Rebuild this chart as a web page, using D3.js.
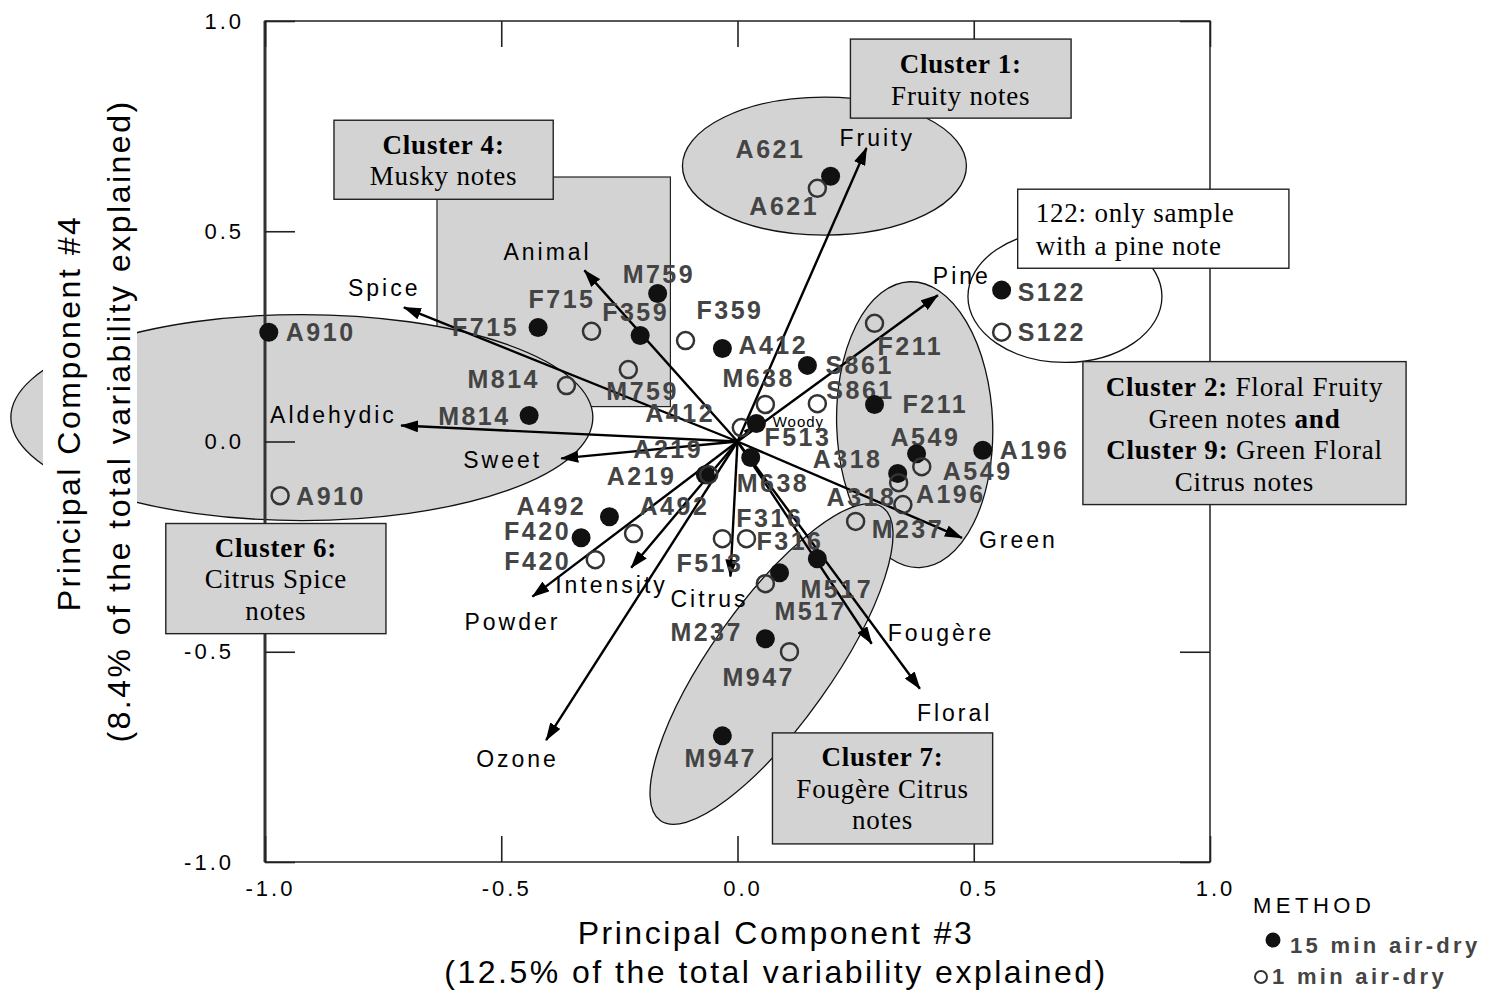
<!DOCTYPE html>
<html><head><meta charset="utf-8">
<script src="https://cdn.jsdelivr.net/npm/d3@7"></script>
<style>body{margin:0;background:#fff}</style>
</head><body><svg id="c" width="1490" height="994"></svg>
<script>
// ---------------- DATA ----------------
const xTicks = [-1, -0.5, 0, 0.5, 1];
const yTicks = [-1, -0.5, 0, 0.5, 1];
const tickLabels = ["-1.0", "-0.5", "0.0", "0.5", "1.0"];
const methods = ["15 min air-dry", "1 min air-dry"];

const sampleIds = ["A621","A621","M759","M759","F715","F715","F359","F359","A412","A412",
  "S861","S861","M638","M638","M814","M814","A910","A910","F513","F513",
  "A219","A219","A492","A492","F420","F420","F316","F316","M517","M517",
  "M237","M237","M947","M947","A318","A318","A549","A549","A196","A196",
  "F211","F211","S122","S122"];
const sampleMethod = sampleIds.map((d, i) => i % 2 === 0 ? 0 : 1); // 0 = 15 min, 1 = 1 min
const samplePC3 = [0.197,0.169,-0.169,-0.231,-0.422,-0.309,-0.206,-0.110,-0.032,0.008,
  0.148,0.169,0.028,0.059,-0.441,-0.362,-0.992,-0.968,0.040,-0.032,
  -0.068,-0.061,-0.271,-0.220,-0.331,-0.301,0.169,0.019,0.089,0.059,
  0.059,0.250,-0.032,0.110,0.339,0.341,0.379,0.390,0.519,0.350,
  0.290,0.290,0.559,0.559];
const samplePC4 = [0.631,0.602,0.352,0.171,0.271,0.262,0.252,0.240,0.221,0.033,
  0.181,0.090,-0.038,0.088,0.062,0.133,0.260,-0.129,0.043,-0.231,
  -0.079,-0.079,-0.179,-0.219,-0.229,-0.281,-0.279,-0.231,-0.312,-0.338,
  -0.469,-0.190,-0.700,-0.500,-0.076,-0.098,-0.029,-0.060,-0.021,-0.150,
  0.088,0.281,0.360,0.260];

const attrNames = ["Fruity","Animal","Spice","Aldehydic","Sweet","Pine","Green","Intensity",
  "Powder","Citrus","Fougère","Floral","Ozone","Woody"];
const attrPC3 = [0.273,-0.324,-0.706,-0.712,-0.373,0.424,0.475,-0.225,-0.434,-0.015,0.284,0.386,-0.405,0.030];
const attrPC4 = [0.698,0.407,0.319,0.038,-0.040,0.348,-0.229,-0.300,-0.369,-0.321,-0.481,-0.588,-0.710,0.035];

// ---------------- LAYOUT ----------------
const sampleLabelOffset = [[-95,-18],[-68,27],[-35,-10],[-22,30],[-86,8],[-63,-23],[-38,-15],[11,-22],
  [16,5],[-96,-6],[18,9],[9,-5],[-14,35],[-43,-17],[-91,10],[-99,2],[17,9],[16,9],
  [8,23],[-46,33],[-72,-17],[-102,10],[-93,-2],[6,-19],[-77,2],[-91,10],[-81,-32],[10,11],
  [21,25],[9,36],[-95,2],[16,17],[-38,31],[-67,34],[-85,-5],[-72,23],[-26,-8],[21,13],
  [17,9],[13,-2],[28,9],[3,32],[16,11],[16,9]];
const attrLabelOffset = [[-27,-2],[-81,-10],[-56,-11],[-131,-3],[-98,10],[-5,-11],[17,10],[-76,25],
  [-68,33],[-60,31],[16,-3],[-3,32],[-70,27],[21,0]];

const ellipses = [
  {cx:0.184, cy:0.655, rx:142, ry:69, rot:0, fill:"#d3d3d3"},
  {cx:-0.922, cy:0.057, rx:291, ry:103, rot:0, fill:"#d3d3d3"},
  {cx:0.375, cy:0.040, rx:78, ry:143, rot:-2, fill:"#d3d3d3"},
  {cx:0.072, cy:-0.529, rx:192, ry:60, rot:-54.6, fill:"#d3d3d3"},
  {cx:0.693, cy:0.345, rx:97, ry:66, rot:0, fill:"#ffffff"}
];
const boxes = [
  {x0:0.239, x1:0.706, y0:0.957, y1:0.769, fill:"#d3d3d3", align:"middle",
   lines:[[["Cluster 1:",1]],[["Fruity notes",0]]], base:[34,66]},
  {x0:-0.854, x1:-0.390, y0:0.764, y1:0.576, fill:"#d3d3d3", align:"middle",
   lines:[[["Cluster 4:",1]],[["Musky notes",0]]], base:[34,65]},
  {x0:0.593, x1:1.167, y0:0.600, y1:0.412, fill:"#ffffff", align:"start",
   lines:[[["122: only sample",0]],[["with a pine note",0]]], base:[33,66]},
  {x0:0.731, x1:1.415, y0:0.190, y1:-0.150, fill:"#d3d3d3", align:"middle",
   lines:[[["Cluster 2:",1],[" Floral Fruity",0]],[["Green notes ",0],["and",1]],
          [["Cluster 9:",1],[" Green Floral",0]],[["Citrus notes",0]]], base:[34,66,97,129]},
  {x0:-1.210, x1:-0.744, y0:-0.195, y1:-0.457, fill:"#d3d3d3", align:"middle",
   lines:[[["Cluster 6:",1]],[["Citrus Spice",0]],[["notes",0]]], base:[34,65,97]},
  {x0:0.074, x1:0.540, y0:-0.693, y1:-0.957, fill:"#d3d3d3", align:"middle",
   lines:[[["Cluster 7:",1]],[["Fougère Citrus",0]],[["notes",0]]], base:[33,65,96]}
];
const muskyRect = {x0:-0.636, x1:-0.142, y0:0.629, y1:0.083};

// ---------------- DRAW ----------------
const SANS = "'Liberation Sans', Arial, sans-serif";
const SERIF = "'Liberation Serif', 'Times New Roman', serif";
const svg = d3.select("#c");
const X = d3.scaleLinear().domain([-1, 1]).range([265, 1210]);
const Y = d3.scaleLinear().domain([-1, 1]).range([862, 21]);

const defs = svg.append("defs");
defs.append("marker").attr("id","ah").attr("viewBox","0 0 18 12").attr("refX",17).attr("refY",6)
  .attr("markerWidth",18).attr("markerHeight",12).attr("markerUnits","userSpaceOnUse").attr("orient","auto")
  .append("path").attr("d","M0,0L18,6L0,12Z").attr("fill","#000");
defs.append("marker").attr("id","ahs").attr("viewBox","0 0 18 12").attr("refX",17).attr("refY",6)
  .attr("markerWidth",9).attr("markerHeight",6).attr("markerUnits","userSpaceOnUse").attr("orient","auto")
  .append("path").attr("d","M0,0L18,6L0,12Z").attr("fill","#000");

// musky rectangle
svg.append("rect").attr("x",X(muskyRect.x0)).attr("y",Y(muskyRect.y0))
  .attr("width",X(muskyRect.x1)-X(muskyRect.x0)).attr("height",Y(muskyRect.y1)-Y(muskyRect.y0))
  .attr("fill","#d3d3d3").attr("stroke","#222").attr("stroke-width",1.2);

// cluster ellipses
svg.selectAll("ellipse.cl").data(ellipses).join("ellipse").attr("class","cl")
  .attr("cx",0).attr("cy",0).attr("rx",d=>d.rx).attr("ry",d=>d.ry)
  .attr("transform",d=>`translate(${X(d.cx)},${Y(d.cy)}) rotate(${d.rot})`)
  .attr("fill",d=>d.fill).attr("stroke","#111").attr("stroke-width",1.3);

// Y axis title (with white backing)
svg.append("rect").attr("x",43).attr("y",60).attr("width",94).attr("height",740).attr("fill","#fff");
const yTitle = svg.append("g").attr("font-family",SANS).attr("font-size",32).attr("letter-spacing",2.5)
  .attr("text-anchor","middle").attr("fill","#000");
yTitle.append("text").attr("transform","translate(80,413) rotate(-90)").text("Principal Component #4");
yTitle.append("text").attr("transform","translate(130,421) rotate(-90)").text("(8.4% of the total variability explained)");

// frame
svg.append("rect").attr("x",X(-1)).attr("y",Y(1)).attr("width",X(1)-X(-1)).attr("height",Y(-1)-Y(1))
  .attr("fill","none").attr("stroke","#222").attr("stroke-width",1.5);
svg.append("line").attr("x1",X(-1)).attr("x2",X(-1)).attr("y1",Y(1)).attr("y2",Y(-1))
  .attr("stroke","#333").attr("stroke-width",3);

// axes
function styleAxis(g){
  g.select(".domain").remove();
  g.selectAll(".tick line").attr("stroke","#222").attr("stroke-width",1.6);
  g.selectAll(".tick text").attr("font-family",SANS).attr("font-size",22).attr("letter-spacing",3).attr("fill","#000");
}
const gx = svg.append("g").attr("transform",`translate(0,${Y(-1)})`)
  .call(d3.axisBottom(X).tickValues(xTicks).tickSize(-26).tickPadding(18).tickFormat((d,i)=>tickLabels[i]))
  .call(styleAxis);
gx.selectAll(".tick text").attr("dx",5);
svg.append("g").attr("transform",`translate(0,${Y(1)})`)
  .call(d3.axisTop(X).tickValues(xTicks).tickSize(-26).tickFormat("")).call(styleAxis);
const gy = svg.append("g").attr("transform",`translate(${X(-1)},0)`)
  .call(d3.axisLeft(Y).tickValues(yTicks).tickSize(-30).tickPadding(21).tickFormat((d,i)=>tickLabels[i]))
  .call(styleAxis);
gy.selectAll(".tick text").attr("dx",d=>d<0?-10:0);
svg.append("g").attr("transform",`translate(${X(1)},0)`)
  .call(d3.axisRight(Y).tickValues(yTicks).tickSize(-30).tickFormat("")).call(styleAxis);

// X axis title
const xTitle = svg.append("g").attr("font-family",SANS).attr("font-size",32).attr("letter-spacing",2.5)
  .attr("text-anchor","middle").attr("fill","#000");
xTitle.append("text").attr("x",776).attr("y",944).text("Principal Component #3");
xTitle.append("text").attr("x",776).attr("y",983).text("(12.5% of the total variability explained)");

// attribute vectors
const attrs = attrNames.map((n,i)=>({name:n, x:attrPC3[i], y:attrPC4[i], off:attrLabelOffset[i]}));
svg.append("g").selectAll("line").data(attrs).join("line")
  .attr("x1",X(0)).attr("y1",Y(0)).attr("x2",d=>X(d.x)).attr("y2",d=>Y(d.y))
  .attr("stroke","#000").attr("stroke-width",d=>d.name==="Woody"?1.5:2.4)
  .attr("marker-end",d=>d.name==="Woody"?"url(#ahs)":"url(#ah)");
svg.append("g").selectAll("text").data(attrs).join("text")
  .attr("x",d=>X(d.x)+d.off[0]).attr("y",d=>Y(d.y)+d.off[1])
  .attr("font-family",SANS).attr("font-size",d=>d.name==="Woody"?15:23)
  .attr("letter-spacing",d=>d.name==="Woody"?1:3).attr("fill","#000").text(d=>d.name);

// sample points
const samples = sampleIds.map((id,i)=>({id, m:sampleMethod[i], x:samplePC3[i], y:samplePC4[i], off:sampleLabelOffset[i]}));
svg.append("g").selectAll("text").data(samples).join("text")
  .attr("x",d=>X(d.x)+d.off[0]).attr("y",d=>Y(d.y)+d.off[1])
  .attr("font-family",SANS).attr("font-weight","bold").attr("font-size",25).attr("letter-spacing",2.5)
  .attr("fill","#444").text(d=>d.id);
svg.append("g").selectAll("circle").data(samples).join("circle")
  .attr("cx",d=>X(d.x)).attr("cy",d=>Y(d.y)).attr("r",d=>d.m===0?9.5:8.5)
  .attr("fill",d=>d.m===0?"#111":"none").attr("stroke",d=>d.m===0?"none":"#333")
  .attr("stroke-width",2.5);

// annotation boxes
boxes.forEach(b=>{
  const x0=X(b.x0), x1=X(b.x1), y0=Y(b.y0), y1=Y(b.y1);
  const g = svg.append("g");
  g.append("rect").attr("x",x0).attr("y",y0).attr("width",x1-x0).attr("height",y1-y0)
    .attr("fill",b.fill).attr("stroke","#222").attr("stroke-width",1.4);
  b.lines.forEach((segs,li)=>{
    const t = g.append("text").attr("font-family",SERIF).attr("font-size",27).attr("letter-spacing",0.8)
      .attr("fill","#000").attr("text-anchor",b.align)
      .attr("x",b.align==="middle"?(x0+x1)/2:x0+18).attr("y",y0+b.base[li]);
    segs.forEach(s=>t.append("tspan").attr("font-weight",s[1]?"bold":"normal").text(s[0]));
  });
});

// legend
const lg = svg.append("g").attr("font-family",SANS);
lg.append("text").attr("x",1253).attr("y",913).attr("font-size",22).attr("letter-spacing",4.5).text("METHOD");
lg.selectAll("circle").data(methods).join("circle")
  .attr("cx",(d,i)=>i===0?1273:1261).attr("cy",(d,i)=>i===0?940:977).attr("r",(d,i)=>i===0?7.5:6)
  .attr("fill",(d,i)=>i===0?"#111":"none").attr("stroke",(d,i)=>i===0?"none":"#333").attr("stroke-width",2);
lg.selectAll("text.m").data(methods).join("text").attr("class","m")
  .attr("x",(d,i)=>i===0?1290:1272).attr("y",(d,i)=>i===0?953:984)
  .attr("font-size",22).attr("font-weight","bold").attr("letter-spacing",3.3).attr("fill","#444").text(d=>d);
</script></body></html>
